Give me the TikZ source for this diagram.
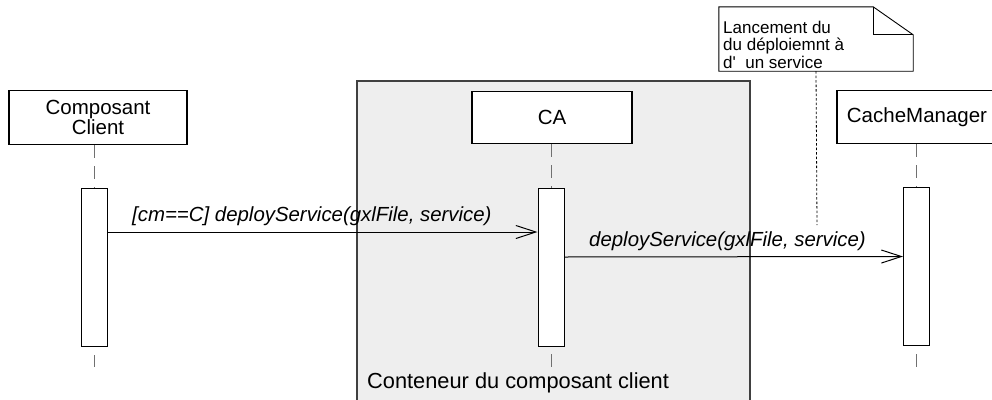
\documentclass[tikz,border=0pt]{standalone}
\usepackage{fontspec}
\newfontfamily\arialf{Liberation Sans}
\usetikzlibrary{arrows.meta,calc}
\definecolor{contfill}{HTML}{EEEEEE}
\definecolor{contdraw}{HTML}{404040}
\definecolor{lifegray}{HTML}{707070}
\begin{document}
\begin{tikzpicture}[x=1pt,y=-1pt, font=\arialf,
  headbox/.style={draw=black, line width=1.1pt, fill=white, inner sep=0pt, font=\arialf\fontsize{20.5}{20.5}\selectfont, align=center},
  actbox/.style={draw=black, line width=1pt, fill=white, minimum width=26pt, minimum height=158pt, inner sep=0pt},
  lifeline/.style={draw=lifegray, line width=1pt, dash pattern=on 13pt off 8pt},
  msg/.style={draw=black, line width=1pt, -{Straight Barb[length=20pt,width=13pt]}},
  msglabel/.style={font=\arialf\itshape\fontsize{20.4}{24}\selectfont, inner sep=0pt, anchor=base west},
  noteline/.style={draw=black, line width=0.8pt, dash pattern=on 2.5pt off 2pt},
  noteshape/.style={draw=black, line width=0.9pt},
]
\useasboundingbox (0,0) rectangle (992,399);
\clip (0,0) rectangle (992,399);
% container
\draw[fill=contfill, draw=contdraw, line width=1.2pt] (357,81) rectangle (750,410);
\node[anchor=base west, inner sep=0pt, font=\arialf\fontsize{21.8}{24}\selectfont] (contlabel) at (367,388) {Conteneur du composant client};
% headers
\node[headbox, minimum width=178pt, minimum height=54pt] (cc) at (98,117.5) {Composant\\Client};
\node[headbox, minimum width=160pt, minimum height=52pt] (ca) at (552,117.5) {CA};
\node[headbox, minimum width=160pt, minimum height=53pt] (cm) at (917,117) {CacheManager};
% lifelines ends
\coordinate (e1) at (94,367);
\coordinate (e2) at (551,367);
\coordinate (e3) at (916.5,367);
\draw[lifeline] (e1 |- cc.south) -- (e1);
\draw[lifeline] (e2 |- ca.south) -- (e2);
\draw[lifeline] (e3 |- cm.south) -- (e3);
% activations
\node[actbox] (a1) at (94,267) {};
\node[actbox] (a2) at (551,267) {};
\node[actbox] (a3) at (916.5,266.5) {};
% messages
\draw[msg] ([yshift=35pt]a1.east) -- ([yshift=35pt]a2.west);
\node[msglabel] (m1) at (132,221) {[cm==C] deployService(gxlFile, service)};
\draw[msg] ([yshift=10pt]a2.east) -- ([yshift=10pt]a3.west);
\node[msglabel] (m2) at (589,246) {deployService(gxlFile, service)};
% note
\node[inner sep=0pt, minimum width=194pt, minimum height=64pt] (note) at (816,39) {};
\draw[noteshape, fill=white] (note.north west) -- ($(note.north east)+(-40,0)$) -- ($(note.north east)+(0,28)$) -- (note.south east) -- (note.south west) -- cycle;
\draw[noteshape] ($(note.north east)+(-40,0)$) -- ($(note.north east)+(-40,28)$) -- ($(note.north east)+(0,28)$);
\node[anchor=north west, inner sep=0pt, align=left, font=\arialf\fontsize{17}{17.8}\selectfont] (notetext) at (723,20.5) {Lancement du\\du déploiemnt à\\d'\ \ un service};
\coordinate (nend) at (817,225);
\draw[noteline] (note.south) -- (nend);
\end{tikzpicture}
\end{document}
